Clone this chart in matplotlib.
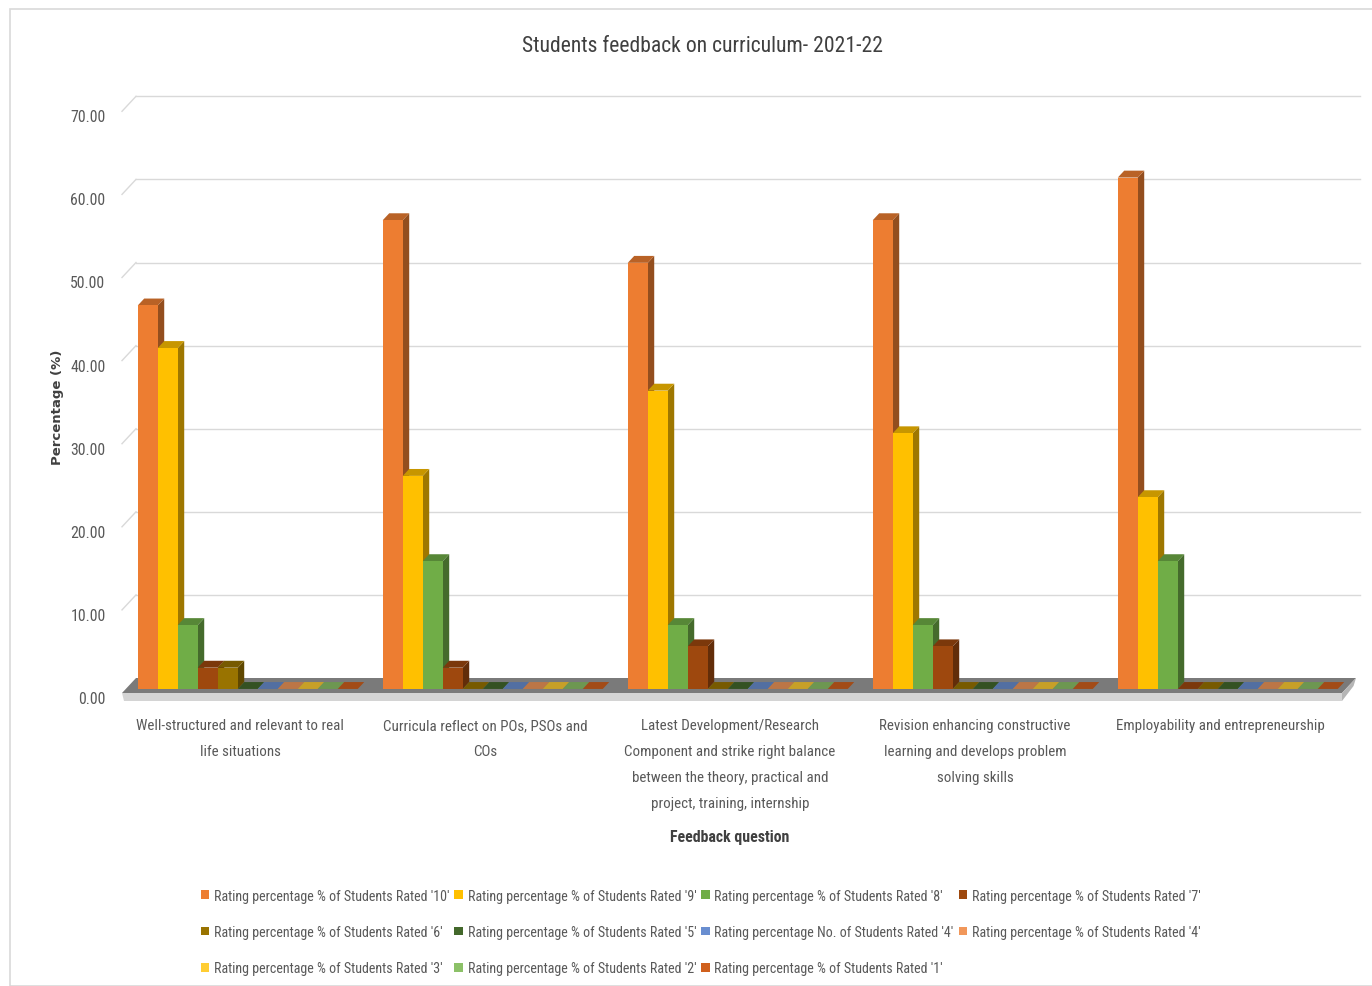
"""
Students feedback on curriculum 2021-22 -- pseudo-3D clustered column chart.
"""

import matplotlib
matplotlib.use('Agg')
import matplotlib.pyplot as plt
from matplotlib import font_manager
from matplotlib.font_manager import FontProperties
from matplotlib.textpath import TextPath
from matplotlib.patches import Polygon, Rectangle, Patch
from matplotlib.colors import to_rgb
from matplotlib.transforms import ScaledTranslation


def pick_narrow_font():
    names = [f.name for f in font_manager.fontManager.ttflist]
    for pref in ['Liberation Sans Narrow', 'DejaVu Sans Condensed', 'Roboto Condensed',
                 'Open Sans Condensed', 'Noto Sans Condensed']:
        if pref in names:
            return pref
    for f in font_manager.fontManager.ttflist:
        if 'condensed' in str(f.stretch) or 'Narrow' in f.name or 'Condensed' in f.name:
            return f.name
    return 'Liberation Sans' if 'Liberation Sans' in names else 'DejaVu Sans'


NARROW = pick_narrow_font()


def fit_size(text, target_px, family=NARROW, weight='normal'):
    # font size (pt) at which `text` is target_px wide at 100 dpi
    prop = FontProperties(family=family, weight=weight)
    w = TextPath((0, 0), text, size=10, prop=prop).get_extents().width
    return 10 * target_px / (w * 100 / 72)


# Data
categories = [
    "Well-structured and relevant to real\nlife situations",
    "Curricula reflect on POs, PSOs and\nCOs",
    "Latest Development/Research\nComponent and strike right balance\nbetween the theory, practical and\nproject, training, internship",
    "Revision enhancing constructive\nlearning and develops problem\nsolving skills",
    "Employability and entrepreneurship",
]

series_labels = [
    "Rating percentage % of Students Rated '10'",
    "Rating percentage % of Students Rated '9'",
    "Rating percentage % of Students Rated '8'",
    "Rating percentage % of Students Rated '7'",
    "Rating percentage % of Students Rated '6'",
    "Rating percentage % of Students Rated '5'",
    "Rating percentage No. of Students Rated '4'",
    "Rating percentage % of Students Rated '4'",
    "Rating percentage % of Students Rated '3'",
    "Rating percentage % of Students Rated '2'",
    "Rating percentage % of Students Rated '1'",
]

series_colors = ['#ED7D31', '#FFC000', '#70AD47', '#9E480E', '#997300', '#43682B',
                 '#698ED0', '#F1975A', '#FFCD33', '#8CC168', '#D0601D']

rated_10 = [46.15, 56.41, 51.28, 56.41, 61.54]
rated_9 = [41.03, 25.64, 35.90, 30.77, 23.08]
rated_8 = [7.69, 15.38, 7.69, 7.69, 15.38]
rated_7 = [2.56, 2.56, 5.13, 5.13, 0.00]
rated_6 = [2.56, 0.00, 0.00, 0.00, 0.00]
rated_5 = [0.00, 0.00, 0.00, 0.00, 0.00]
rated_4_no = [0.00, 0.00, 0.00, 0.00, 0.00]
rated_4 = [0.00, 0.00, 0.00, 0.00, 0.00]
rated_3 = [0.00, 0.00, 0.00, 0.00, 0.00]
rated_2 = [0.00, 0.00, 0.00, 0.00, 0.00]
rated_1 = [0.00, 0.00, 0.00, 0.00, 0.00]

series_values = [rated_10, rated_9, rated_8, rated_7, rated_6, rated_5,
                 rated_4_no, rated_4, rated_3, rated_2, rated_1]

yticks = [0, 10, 20, 30, 40, 50, 60, 70]

# Layout (pixels of the 1372x987 canvas)
W, H = 1372, 987
AX_L, AX_R, AX_T, AX_B = 118, 1365, 85, 712
ZERO_PX, PX_PER_Y = 694, 8.31
X0_PX, PX_PER_GROUP = 244, 245

TEXT = '#595959'
DARK_TEXT = '#404040'
GRID = '#d9d9d9'

# text sizes matched to the widths in the original picture
LEGEND_SIZE = min(fit_size(series_labels[0], 234), 11)
CAT_SIZE = min(fit_size("Well-structured and relevant to real", 205), 12)
TITLE_SIZE = min(fit_size('Students feedback on curriculum- 2021-22', 360), 17)
TICK_SIZE = min(fit_size('70.00', 34), 12)
XLAB_SIZE = min(fit_size('Feedback question', 118, weight='bold'), 13)


def shade(color, k):
    r, g, b = to_rgb(color)
    return (r * k, g * k, b * k)


fig = plt.figure(figsize=(W / 100, H / 100), dpi=100)
fig.patches.append(Rectangle((10 / W, 0), 1, 1 - 10 / H, transform=fig.transFigure,
                             fill=False, edgecolor='#d9d9d9', linewidth=1.2))

ax = fig.add_axes([AX_L / W, 1 - AX_B / H, (AX_R - AX_L) / W, (AX_B - AX_T) / H])
ax.set_xlim((AX_L - X0_PX) / PX_PER_GROUP, (AX_R - X0_PX) / PX_PER_GROUP)
ax.set_ylim((ZERO_PX - AX_B) / PX_PER_Y, (ZERO_PX - AX_T) / PX_PER_Y)

# depth of the 3D box in data units
DX = 14 / PX_PER_GROUP
DY = 15 / PX_PER_Y
xl = (122 - X0_PX) / PX_PER_GROUP
xr = (1342 - X0_PX) / PX_PER_GROUP

# back wall gridlines + left wall diagonals
for v in yticks[1:]:
    ax.plot([xl + DX, xr + DX + 0.015], [v + DY, v + DY], color=GRID, lw=1, zorder=1)
    ax.plot([xl, xl + DX], [v, v + DY], color=GRID, lw=1, zorder=1)

# floor slab
thick = 8 / PX_PER_Y
ax.add_patch(Polygon([(xl, 0), (xr, 0), (xr + DX, DY), (xl + DX, DY)],
                     closed=True, facecolor='#7a7a7a', edgecolor='none', zorder=2))
ax.add_patch(Polygon([(xl, 0), (xr, 0), (xr, -thick), (xl + 0.01, -thick)],
                     closed=True, facecolor='#d4d4d4', edgecolor='none', zorder=2))
ax.add_patch(Polygon([(xr, 0), (xr + DX, DY), (xr + DX - 0.01, DY - thick), (xr, -thick)],
                     closed=True, facecolor='#b5b5b5', edgecolor='none', zorder=2))

# bars
bw = 20 / PX_PER_GROUP
f0, f1 = 0.27, 0.73
base = f0 * DY
sdx, sdy = (f1 - f0) * DX, (f1 - f0) * DY
n = len(series_values)
z = 3
for i in range(len(categories)):
    for j in range(n):
        v = series_values[j][i]
        c = series_colors[j]
        x = i + (j - n / 2) * bw + f0 * DX
        top = base + v
        ax.add_patch(Polygon([(x + bw, base), (x + bw + sdx, base + sdy),
                              (x + bw + sdx, top + sdy), (x + bw, top)],
                             closed=True, facecolor=shade(c, 0.62), edgecolor='none', zorder=z))
        ax.add_patch(Polygon([(x, top), (x + sdx, top + sdy), (x + bw + sdx, top + sdy), (x + bw, top)],
                             closed=True, facecolor=shade(c, 0.78), edgecolor='none', zorder=z))
        if v > 0:
            ax.add_patch(Rectangle((x, base), bw, v, facecolor=c, edgecolor='none', zorder=z))
        z += 1

# axes styling
for s in ax.spines.values():
    s.set_visible(False)
ax.set_xticks([])
ax.set_yticks(yticks)
ax.set_yticklabels([f'{t:.2f}' for t in yticks], fontsize=TICK_SIZE, color=TEXT, family=NARROW)
ax.tick_params(axis='y', length=0, pad=9)
shift = ScaledTranslation(0, -4 / 100, fig.dpi_scale_trans)
for lab in ax.get_yticklabels():
    lab.set_transform(lab.get_transform() + shift)

# category labels
for i, cat in enumerate(categories):
    ax.text(i - 0.016, (ZERO_PX - 719) / PX_PER_Y, cat, ha='center', va='top',
            fontsize=CAT_SIZE, color=TEXT, family=NARROW, linespacing=2.1)

# titles
fig.text(703 / W, 1 - 47 / H, 'Students feedback on curriculum- 2021-22', ha='center', va='center',
         fontsize=TITLE_SIZE, color=DARK_TEXT, family=NARROW)
fig.text(57 / W, 1 - 407 / H, 'Percentage (%)', rotation=90, ha='center', va='center',
         fontsize=9.5, fontweight='bold', color=DARK_TEXT)
fig.text(730 / W, 1 - 838 / H, 'Feedback question', ha='center', va='center',
         fontsize=XLAB_SIZE, fontweight='bold', color=DARK_TEXT, family=NARROW)

# legend, laid out row by row like the original
handles = [Patch(facecolor=c, edgecolor='none') for c in series_colors]
order = [0, 4, 8, 1, 5, 9, 2, 6, 10, 3, 7]
fig.legend([handles[k] for k in order], [series_labels[k] for k in order],
           ncol=4, loc='upper left', bbox_to_anchor=(188 / W, 1 - 877 / H),
           frameon=False, handlelength=0.6, handleheight=0.6, handletextpad=0.35,
           columnspacing=0.35, labelspacing=1.6, labelcolor=TEXT,
           prop={'family': NARROW, 'size': LEGEND_SIZE})

fig.savefig('out.png', dpi=100)
plt.close(fig)
